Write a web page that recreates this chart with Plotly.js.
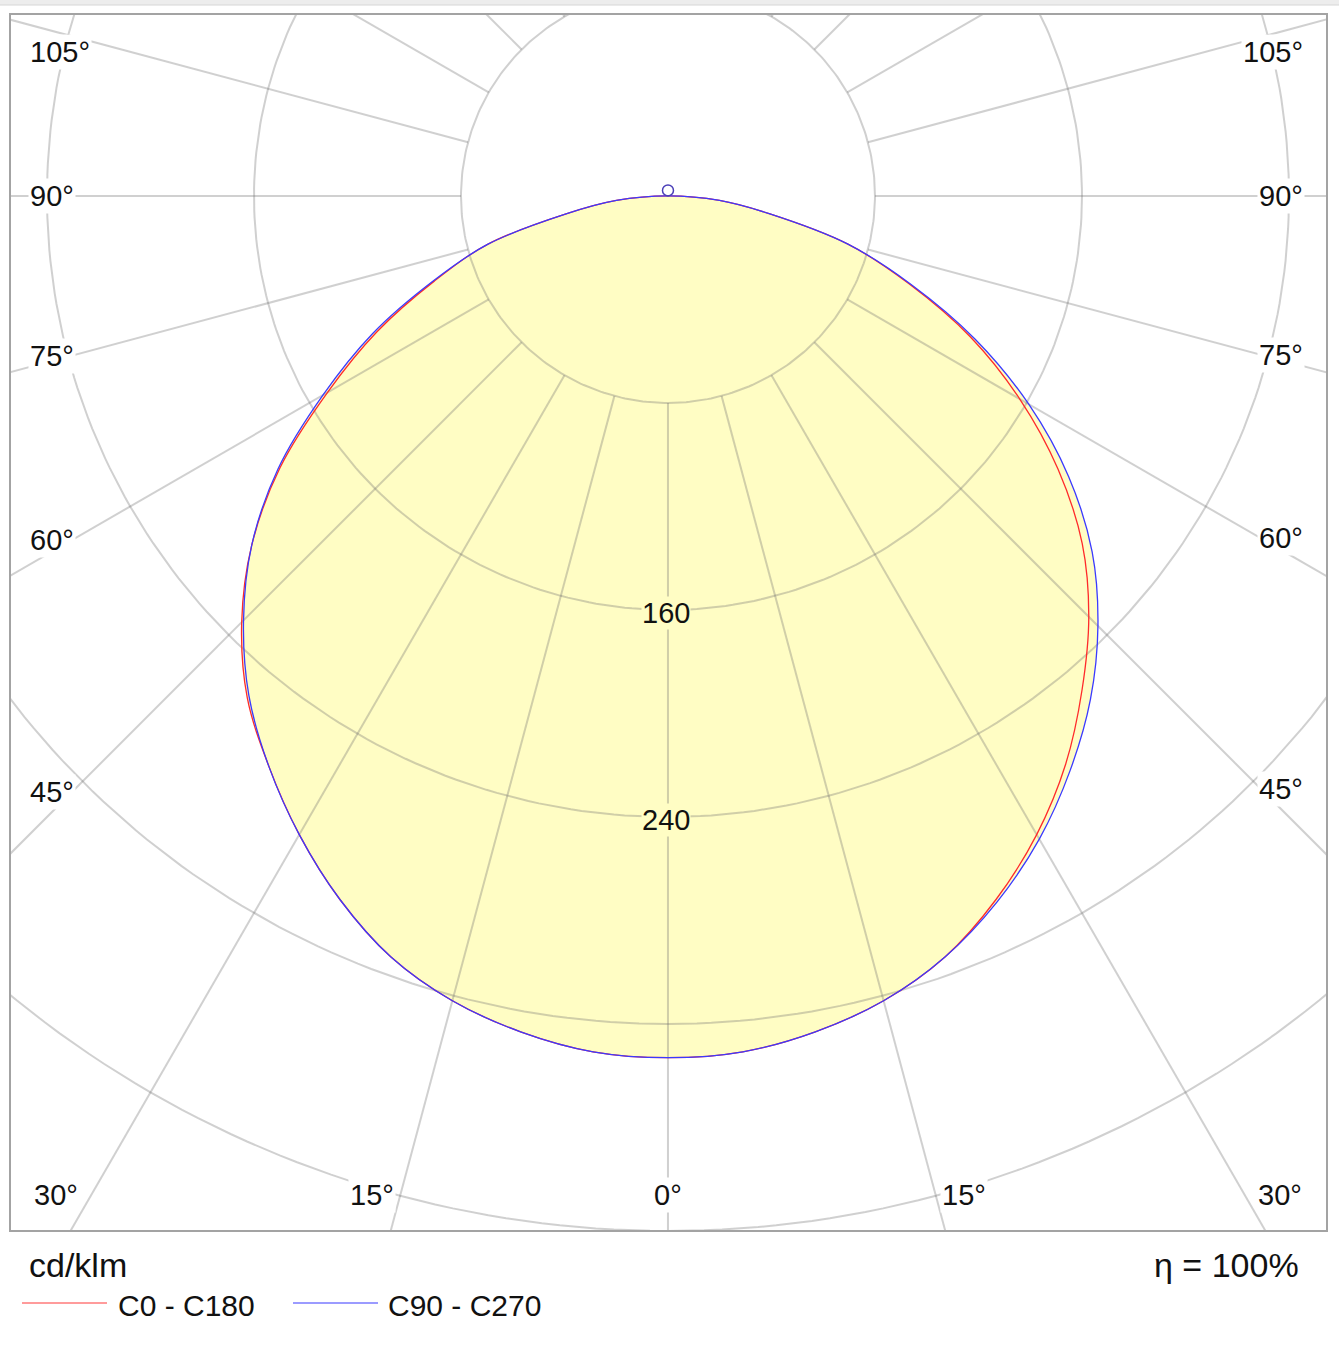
<!DOCTYPE html>
<html>
<head>
<meta charset="utf-8">
<script src="https://cdn.plot.ly/plotly-3.0.1.min.js"></script>
<style>
  html, body { margin: 0; padding: 0; background: #fff; }
  #chart { width: 1339px; height: 1347px; }
</style>
</head>
<body>
<div id="chart"></div>
<script>
// gamma angles (deg) and luminous intensity (cd/klm)
const gamma = [0, 5, 10, 15, 20, 25, 30, 35, 40, 45, 50, 55, 60, 65, 70, 75, 80, 85, 90];
const c0   = [333, 332, 328, 322, 313, 300, 285, 268, 249, 230, 209, 184, 157, 129, 99, 72, 40, 20, 0];
const c180 = [333, 332, 328, 322, 313, 300, 285, 269, 253, 233, 210, 183, 152, 124, 96, 72, 40, 20, 0];
const c90  = [333, 332, 328, 322, 313, 301, 287, 271, 254, 235, 214, 189, 161, 131, 100, 72, 40, 20, 0];
const c270 = [333, 332, 328, 322, 313, 300, 285, 269, 252, 232, 210, 184, 154, 126, 97, 72, 40, 20, 0];

const ringValues = [80, 160, 240, 320, 400, 480];
const ringLabels = [160, 240];
const spokeStep = 15;
const seriesNames = ['C0 - C180', 'C90 - C270'];
const unitText = 'cd/klm';
const etaText = 'η = 100%';

// page geometry
const W = 1339, H = 1347;
const M = { l: 10, r: 12, t: 14, b: 116 };
const plotW = W - M.l - M.r, plotH = H - M.t - M.b;
const xRange = [-254.3, 254.7];
const yRange = [-400, 70.3];
const s = plotH / (yRange[1] - yRange[0]);       // px per cd/klm
const cx = M.l - xRange[0] * s, cy = M.t + yRange[1] * s;
const frame = { L: M.l, R: W - M.r, T: M.t, B: H - M.b };

const FONT = 'Liberation Sans, Arial, sans-serif';
const labelSize = 29;
const fillColor = '#fffdc4';
const gridColor = 'rgba(110,110,110,0.32)';
const rad = d => d * Math.PI / 180;
const toX = px => (px - cx) / s;
const toY = py => (cy - py) / s;
const paperX = px => (px - M.l) / plotW;
const paperY = py => (H - M.b - py) / plotH;

// closed outline: left half (gamma 90 -> 0) then right half (0 -> 90)
function outline(left, right) {
  const xs = [], ys = [];
  for (let i = gamma.length - 1; i >= 0; i--) {
    xs.push(-left[i] * Math.sin(rad(gamma[i])));
    ys.push(-left[i] * Math.cos(rad(gamma[i])));
  }
  for (let i = 1; i < gamma.length; i++) {
    xs.push(right[i] * Math.sin(rad(gamma[i])));
    ys.push(-right[i] * Math.cos(rad(gamma[i])));
  }
  return { x: xs, y: ys };
}

const curveA = outline(c180, c0);
const curveB = outline(c270, c90);

// grid rings
const ringX = [], ringY = [];
ringValues.forEach(r => {
  for (let a = 0; a <= 360; a++) {
    ringX.push(r * Math.sin(rad(a)));
    ringY.push(-r * Math.cos(rad(a)));
  }
  ringX.push(null); ringY.push(null);
});

// spokes start at the first ring
const spokeX = [], spokeY = [];
const rIn = ringValues[0], rOut = 900;
for (let g = -180; g <= 180; g += spokeStep) {
  spokeX.push(rIn * Math.sin(rad(g)), rOut * Math.sin(rad(g)), null);
  spokeY.push(-rIn * Math.cos(rad(g)), -rOut * Math.cos(rad(g)), null);
}

const smooth = { shape: 'spline', smoothing: 1, simplify: false };
const traces = [
  { x: curveA.x, y: curveA.y, mode: 'lines', fill: 'toself', fillcolor: fillColor,
    line: Object.assign({ width: 0 }, smooth), hoverinfo: 'skip' },
  { x: curveB.x, y: curveB.y, mode: 'lines', fill: 'toself', fillcolor: fillColor,
    line: Object.assign({ width: 0 }, smooth), hoverinfo: 'skip' },
  { x: ringX, y: ringY, mode: 'lines', line: { color: gridColor, width: 2 }, hoverinfo: 'skip' },
  { x: spokeX, y: spokeY, mode: 'lines', line: { color: gridColor, width: 2 }, hoverinfo: 'skip' },
  { x: curveA.x, y: curveA.y, mode: 'lines', name: seriesNames[0],
    line: Object.assign({ color: '#ff2a2a', width: 1.3 }, smooth) },
  { x: curveB.x, y: curveB.y, mode: 'lines', name: seriesNames[1],
    line: Object.assign({ color: '#3a3aff', width: 1.3 }, smooth) },
  { x: [0], y: [5.5 / s], mode: 'markers', hoverinfo: 'skip',
    marker: { symbol: 'circle-open', size: 11, color: '#4a3fb8', line: { width: 1.5 } } }
];

const annotations = [];

// ring value labels along the 0 deg spoke
ringLabels.forEach(r => {
  annotations.push({ x: 0, y: -r, xref: 'x', yref: 'y', text: String(r), showarrow: false,
    yshift: -3, xshift: -2, bgcolor: fillColor, borderpad: 0,
    font: { family: FONT, size: labelSize, color: '#111' } });
});

// angle labels where spokes leave the frame at the sides or the bottom
const textWidth = t => (t.length - 1) * 0.556 * labelSize + 0.4 * labelSize;
for (let g = 0; g <= 180; g += spokeStep) {
  const sides = g === 0 ? [1] : [-1, 1];
  sides.forEach(sgn => {
    const sn = Math.sin(rad(g)), cs = Math.cos(rad(g));
    const tx = sn > 1e-9 ? (sgn > 0 ? frame.R - cx : cx - frame.L) / sn : Infinity;
    const ty = cs > 1e-9 ? (frame.B - cy) / cs : (cs < -1e-9 ? (cy - frame.T) / -cs : Infinity);
    const text = g + '°';
    let lx, ly, anchor;
    if (ty < tx) {
      if (cs < 0) return;                          // leaves through the top: no label
      ly = frame.B - 36;
      const probe = ly + 23;
      lx = cx + sgn * Math.tan(rad(g)) * (probe - cy) + (g === 0 ? 0 : sgn * 22);
      anchor = 'center';
    } else {
      const w = textWidth(text);
      lx = sgn > 0 ? frame.R - 22 : frame.L + 18;
      const inner = lx - sgn * w;
      ly = cy + Math.abs(inner - cx) * cs / sn;
      ly = Math.max(ly, frame.T + 38);
      anchor = sgn > 0 ? 'right' : 'left';
    }
    annotations.push({ x: toX(lx), y: toY(ly), xref: 'x', yref: 'y', text: text,
      xanchor: anchor, showarrow: false, bgcolor: '#ffffff', borderpad: 1,
      font: { family: FONT, size: labelSize, color: '#111' } });
  });
}

// footer
annotations.push(
  { x: paperX(27), y: paperY(1265), xref: 'paper', yref: 'paper', text: unitText,
    xanchor: 'left', yanchor: 'middle', showarrow: false, font: { family: FONT, size: 34, color: '#111' } },
  { x: paperX(1301), y: paperY(1265), xref: 'paper', yref: 'paper', text: etaText,
    xanchor: 'right', yanchor: 'middle', showarrow: false, font: { family: FONT, size: 34, color: '#111' } },
  { x: paperX(116), y: paperY(1305), xref: 'paper', yref: 'paper', text: seriesNames[0],
    xanchor: 'left', yanchor: 'middle', showarrow: false, font: { family: FONT, size: 30, color: '#111' } },
  { x: paperX(386), y: paperY(1305), xref: 'paper', yref: 'paper', text: seriesNames[1],
    xanchor: 'left', yanchor: 'middle', showarrow: false, font: { family: FONT, size: 30, color: '#111' } }
);

const shapes = [
  { type: 'rect', xref: 'paper', yref: 'paper', x0: 0, x1: 1, y0: 0, y1: 1,
    line: { color: '#a3a3a3', width: 2 }, fillcolor: 'rgba(0,0,0,0)' },
  { type: 'rect', xref: 'paper', yref: 'paper', x0: paperX(0), x1: paperX(W), y0: paperY(5), y1: paperY(0),
    line: { width: 0 }, fillcolor: '#ededed' },
  { type: 'line', xref: 'paper', yref: 'paper', x0: paperX(0), x1: paperX(W), y0: paperY(5), y1: paperY(5),
    line: { color: '#d6d6d6', width: 1 } },
  { type: 'line', xref: 'paper', yref: 'paper', x0: paperX(22), x1: paperX(107), y0: paperY(1303), y1: paperY(1303),
    line: { color: '#ff7a7a', width: 1.5 } },
  { type: 'line', xref: 'paper', yref: 'paper', x0: paperX(293), x1: paperX(378), y0: paperY(1303), y1: paperY(1303),
    line: { color: '#7a7aff', width: 1.5 } }
];

const layout = {
  width: W, height: H,
  margin: M,
  paper_bgcolor: '#ffffff', plot_bgcolor: '#ffffff',
  showlegend: false,
  xaxis: { range: xRange, visible: false, fixedrange: true },
  yaxis: { range: yRange, visible: false, fixedrange: true },
  annotations: annotations,
  shapes: shapes
};

Plotly.newPlot('chart', traces, layout, { displayModeBar: false, staticPlot: true });
</script>
</body>
</html>
